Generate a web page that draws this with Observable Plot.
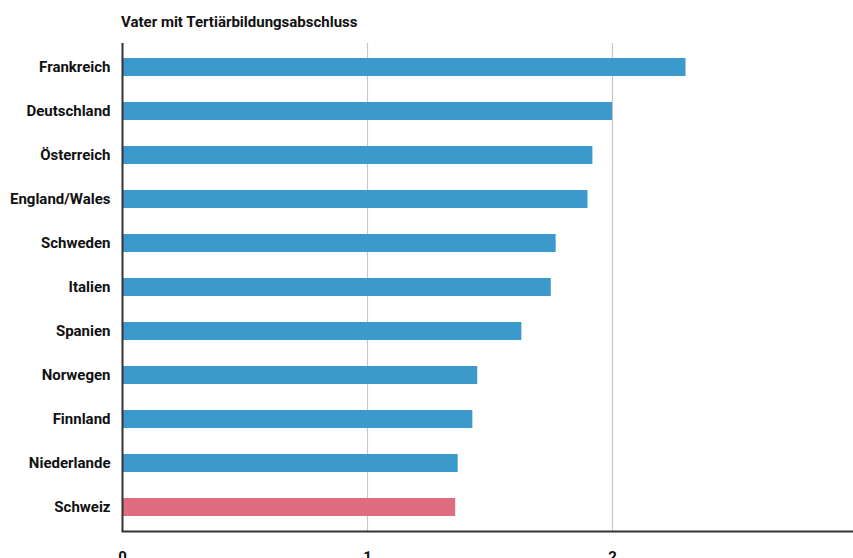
<!DOCTYPE html>
<html>
<head>
<meta charset="utf-8">
<script src="https://cdn.jsdelivr.net/npm/d3@7"></script>
<script src="https://cdn.jsdelivr.net/npm/@observablehq/plot@0.6"></script>
<style>
  html, body { margin: 0; padding: 0; background: #fff; overflow: hidden; width: 853px; height: 558px; }
  #title { font-family: Roboto, sans-serif; font-weight: bold; font-size: 15px; color: #111;
           padding: 12px 0 0 121px; height: 20px; line-height: 20px; }
  #chart svg { display: block; overflow: visible; max-width: none !important; }
</style>
</head>
<body>
<div id="title">Vater mit Tertiärbildungsabschluss</div>
<div id="chart"></div>
<script>
const countries = ["Frankreich", "Deutschland", "Österreich", "England/Wales", "Schweden", "Italien", "Spanien", "Norwegen", "Finnland", "Niederlande", "Schweiz"];
const values = [2.30, 2.00, 1.92, 1.90, 1.77, 1.75, 1.63, 1.45, 1.43, 1.37, 1.36];
const highlight = "Schweiz";
const xTicks = [0, 1, 2, 3];

const data = countries.map((c, i) => ({country: c, value: values[i], hl: c === highlight}));

const chart = Plot.plot({
  width: 880,
  height: 539,
  marginLeft: 122,
  marginRight: 23,
  marginTop: 11,
  marginBottom: 40,
  style: {fontFamily: "Roboto, sans-serif", fontSize: "15px", fontWeight: "bold", color: "#111", background: "#fff", maxWidth: "none"},
  x: {domain: [0, 3], ticks: xTicks},
  y: {domain: countries, paddingInner: 0.6, paddingOuter: 0.3},
  marks: [
    Plot.gridX(xTicks.slice(1), {stroke: "#c8c8c8", strokeOpacity: 1, strokeWidth: 1.2}),
    Plot.barX(data, {x: "value", y: "country", fill: d => d.hl ? "#df6d7f" : "#3b99cc"}),
    Plot.ruleX([0], {stroke: "#333", strokeWidth: 2}),
    Plot.frame({anchor: "bottom", stroke: "#333", strokeWidth: 2}),
    Plot.axisY({tickSize: 0, tickPadding: 12, label: null, fontSize: 15, fontWeight: "bold"}),
    Plot.axisX(xTicks, {tickSize: 0, tickPadding: 20, label: null, fontSize: 15, fontWeight: "bold", tickFormat: d3.format("d")})
  ]
});
document.getElementById("chart").appendChild(chart);
</script>
</body>
</html>
